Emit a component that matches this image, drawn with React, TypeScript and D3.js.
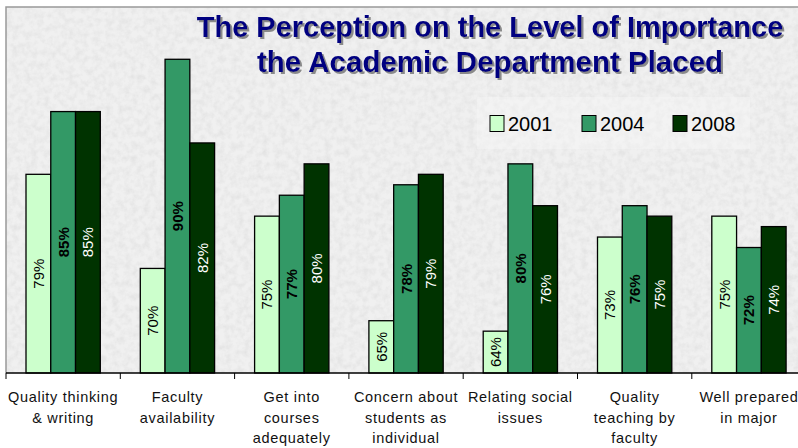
import { useEffect, useRef } from 'react';
import * as d3 from 'd3';

const categories = [
  ['Quality thinking', '& writing'],
  ['Faculty', 'availability'],
  ['Get into', 'courses', 'adequately'],
  ['Concern about', 'students as', 'individual'],
  ['Relating social', 'issues'],
  ['Quality', 'teaching by', 'faculty'],
  ['Well prepared', 'in major'],
];
const years = ['2001', '2004', '2008'];
const v2001 = [79, 70, 75, 65, 64, 73, 75];
const v2004 = [85, 90, 77, 78, 80, 76, 72];
const v2008 = [85, 82, 80, 79, 76, 75, 74];
const titleLines = ['The Perception on the Level of Importance', 'the Academic Department Placed'];

const colors = ['#ccffcc', '#339966', '#003300'];
const labelFill = ['#000', '#000', '#fff'];
const labelWeight = ['normal', 'bold', 'normal'];

export default function App() {
  const svgRef = useRef<SVGSVGElement>(null);

  useEffect(() => {
    document.body.style.margin = '0';
    if (!svgRef.current) return;
    const svg = d3.select(svgRef.current);
    svg.selectAll('*').remove();

    const W = 798;
    const H = 448;
    const left = 6;
    const top = 7;
    const bottom = 373;
    const catW = 114.3;
    const font = 'Arial, "Liberation Sans", sans-serif';

    const x0 = d3
      .scaleBand()
      .domain(categories.map((_, i) => String(i)))
      .range([left, left + catW * categories.length])
      .paddingInner(0.35)
      .paddingOuter(0.175);
    const x1 = d3.scaleBand().domain(years).range([0, x0.bandwidth()]);
    const y = d3.scaleLinear().domain([60, 95]).range([bottom, top]);

    const defs = svg.append('defs');
    const f = defs
      .append('filter')
      .attr('id', 'marble')
      .attr('x', 0)
      .attr('y', 0)
      .attr('width', 1)
      .attr('height', 1);
    f.append('feTurbulence')
      .attr('type', 'fractalNoise')
      .attr('baseFrequency', 0.16)
      .attr('numOctaves', 3)
      .attr('seed', 7);
    f.append('feColorMatrix')
      .attr('type', 'matrix')
      .attr('values', '0 0 0 0 0.6  0 0 0 0 0.6  0 0 0 0 0.6  0 0 0 -1.8 1.15');
    f.append('feComposite').attr('in2', 'SourceGraphic').attr('operator', 'in');

    const sh = defs.append('filter').attr('id', 'tshadow');
    sh.append('feDropShadow')
      .attr('dx', 2)
      .attr('dy', 2)
      .attr('stdDeviation', 0.4)
      .attr('flood-color', '#8a8a8a');

    svg.append('rect').attr('width', W).attr('height', H).attr('fill', '#fff');
    svg
      .append('rect')
      .attr('x', left)
      .attr('y', top)
      .attr('width', W - left)
      .attr('height', bottom - top)
      .attr('fill', '#f0f0f0');
    svg
      .append('rect')
      .attr('x', left)
      .attr('y', top)
      .attr('width', W - left)
      .attr('height', bottom - top)
      .attr('fill', '#000')
      .attr('filter', 'url(#marble)')
      .attr('opacity', 0.35);

    svg
      .append('path')
      .attr('d', `M${left},${bottom} V${top} H${W}`)
      .attr('fill', 'none')
      .attr('stroke', '#999')
      .attr('stroke-width', 1.5);

    // title
    titleLines.forEach((t, i) => {
      svg
        .append('text')
        .attr('x', 490)
        .attr('y', 37 + i * 35)
        .attr('text-anchor', 'middle')
        .attr('font-family', font)
        .attr('font-weight', 'bold')
        .attr('font-size', i === 0 ? 29 : 29.5)
        .attr('fill', '#000080')
        .attr('filter', 'url(#tshadow)')
        .text(t);
    });

    // legend
    const legend = svg.append('g');
    legend
      .append('rect')
      .attr('x', 477)
      .attr('y', 97)
      .attr('width', 273)
      .attr('height', 52)
      .attr('fill', '#f6f6f6')
      .attr('opacity', 0.45);
    const lx = [490, 582, 673];
    years.forEach((yr, i) => {
      legend
        .append('rect')
        .attr('x', lx[i])
        .attr('y', 115.5)
        .attr('width', 14)
        .attr('height', 16)
        .attr('fill', colors[i])
        .attr('stroke', '#000')
        .attr('stroke-width', 1);
      legend
        .append('text')
        .attr('x', lx[i] + 18)
        .attr('y', 131)
        .attr('font-family', font)
        .attr('font-size', 20)
        .attr('fill', '#000')
        .text(yr);
    });

    // bars
    const series = [v2001, v2004, v2008];
    const g = svg.append('g');
    categories.forEach((_, ci) => {
      series.forEach((vals, si) => {
        const bx = x0(String(ci))! + x1(years[si])!;
        const by = y(vals[ci]);
        g.append('rect')
          .attr('x', bx)
          .attr('y', by)
          .attr('width', x1.bandwidth())
          .attr('height', bottom - by)
          .attr('fill', colors[si])
          .attr('stroke', '#000')
          .attr('stroke-width', 1.3);
        const cx = bx + x1.bandwidth() / 2;
        const cy = (by + bottom) / 2;
        g.append('text')
          .attr('transform', `translate(${cx + 5.5},${cy}) rotate(-90)`)
          .attr('text-anchor', 'middle')
          .attr('font-family', font)
          .attr('font-size', 15)
          .attr('font-weight', labelWeight[si])
          .attr('fill', labelFill[si])
          .text(`${vals[ci]}%`);
      });
    });

    // x axis
    svg
      .append('line')
      .attr('x1', left)
      .attr('x2', W)
      .attr('y1', bottom)
      .attr('y2', bottom)
      .attr('stroke', '#000')
      .attr('stroke-width', 1.3);
    d3.range(categories.length).forEach((i) => {
      const tx = left + i * catW;
      svg
        .append('line')
        .attr('x1', tx)
        .attr('x2', tx)
        .attr('y1', bottom)
        .attr('y2', bottom + 6)
        .attr('stroke', '#000');
    });
    categories.forEach((lines, ci) => {
      const cx = x0(String(ci))! + x0.bandwidth() / 2;
      lines.forEach((ln, li) => {
        svg
          .append('text')
          .attr('x', cx)
          .attr('y', 402 + li * 20.5)
          .attr('text-anchor', 'middle')
          .attr('font-family', font)
          .attr('font-size', 14.5)
          .attr('letter-spacing', 0.7)
          .attr('fill', '#111')
          .text(ln);
      });
    });
  }, []);

  return <svg ref={svgRef} width={798} height={448} style={{ display: 'block' }} />;
}
